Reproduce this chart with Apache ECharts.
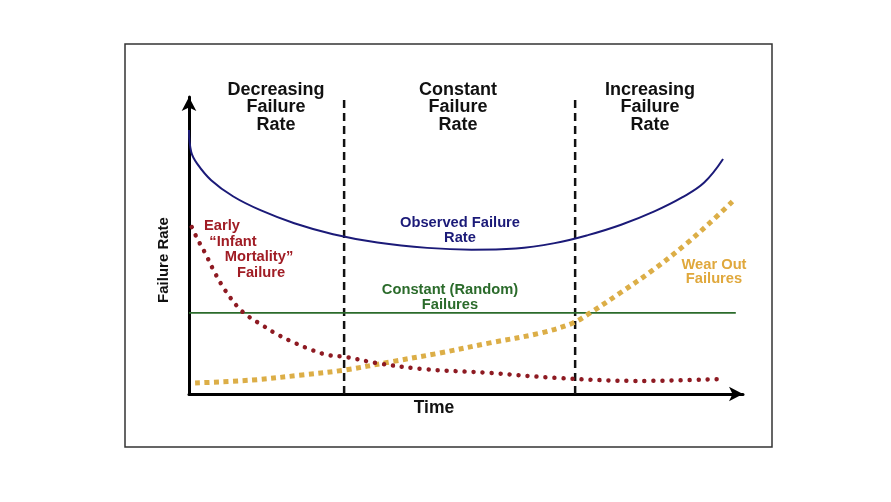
<!DOCTYPE html>
<html>
<head>
<meta charset="utf-8">
<script src="https://cdn.jsdelivr.net/npm/echarts@6/dist/echarts.min.js"></script>
<style>
html,body{margin:0;padding:0;background:#fff;}
#chart{width:891px;height:502px;}
</style>
</head>
<body>
<div id="chart"></div>
<script>
// Data (x: time 0-100, y: failure rate 0-100)
const observedX = [0, 0.4, 1.5, 4, 8, 13, 19, 26, 34, 43, 51, 59, 66, 72, 78, 84, 89, 93, 96.4];
const observedY = [88.9, 81.5, 77.5, 72.0, 66.5, 61.8, 57.5, 53.8, 51.0, 49.2, 48.6, 49.0, 50.8, 53.5, 57.0, 61.5, 66.2, 71.2, 79.1];
const infantX = [0.5, 1.6, 2.9, 4.7, 6.5, 8.8, 10.6, 13.2, 16.1, 19.1, 22.2, 25.1, 28.2, 33.9, 42.2, 54.3, 66.4, 80.9, 96.8];
const infantY = [56.2, 51.9, 47.5, 40.7, 35.0, 29.3, 26.3, 23.2, 19.9, 17.2, 14.8, 13.1, 12.5, 10.4, 8.4, 7.1, 5.4, 4.4, 5.1];
const wearX = [1.1, 11.4, 20.4, 28.2, 36.3, 45.3, 54.3, 63.4, 69.3, 72.4, 77.8, 83.8, 89.9, 94.0, 98.2];
const wearY = [3.7, 4.7, 6.4, 8.1, 10.8, 13.8, 17.2, 20.5, 23.9, 27.3, 34.0, 41.8, 50.8, 57.6, 65.0];
const constantX = [0, 98.7];
const constantY = [27.3, 27.3];
const phaseBoundaries = [28.0, 69.7];
const phaseTop = 99.7;
const phaseTitles = ['Decreasing\nFailure\nRate', 'Constant\nFailure\nRate', 'Increasing\nFailure\nRate'];
const xAxisName = 'Time';
const yAxisName = 'Failure Rate';

const zip = (xs, ys) => xs.map((x, i) => [x, ys[i]]);
const FONT = '"Liberation Sans", Arial, sans-serif';

const chart = echarts.init(document.getElementById('chart'), null, {renderer: 'canvas'});

const boundarySeries = phaseBoundaries.map(b => ({
  type: 'line', data: [[b, 0], [b, phaseTop]], symbol: 'none', silent: true,
  lineStyle: {color: '#111', width: 2.5, type: [8, 5]}, z: 1
}));

function txt(text, x, y, color, size, lh) {
  return {
    type: 'text', x: x, y: y, silent: true,
    style: {text: text, fill: color, font: 'bold ' + size + 'px ' + FONT,
      align: 'center', verticalAlign: 'middle', lineHeight: lh || size}
  };
}

const axisCommon = {
  type: 'value', min: 0, max: 100,
  axisLine: {show: true, lineStyle: {color: '#000', width: 3}, symbol: ['none', 'arrow'], symbolSize: [11, 14], symbolOffset: [0, 0]},
  axisTick: {show: false}, axisLabel: {show: false}, splitLine: {show: false}
};

const option = {
  animation: false,
  backgroundColor: '#fff',
  grid: {left: 189, right: 148, top: 97, bottom: 108, containLabel: false},
  xAxis: axisCommon,
  yAxis: axisCommon,
  series: [
    ...boundarySeries,
    {type: 'line', data: zip(constantX, constantY), symbol: 'none', silent: true,
      lineStyle: {color: '#2b6b2b', width: 1.6}, z: 2},
    {type: 'line', data: zip(wearX, wearY), symbol: 'none', smooth: 0.35, silent: true,
      lineStyle: {color: '#dcae47', width: 5, type: [5, 4.5], cap: 'butt'}, z: 3},
    {type: 'line', data: zip(infantX, infantY), symbol: 'none', smooth: 0.35, silent: true,
      lineStyle: {color: '#8e1a22', width: 4.5, type: [0.01, 9], cap: 'round'}, z: 4},
    {type: 'line', data: zip(observedX, observedY), symbol: 'none', smooth: 0.4, silent: true,
      lineStyle: {color: '#1b1a78', width: 2}, z: 5}
  ],
  graphic: [
    {type: 'rect', shape: {x: 125, y: 44, width: 647, height: 403}, silent: true,
      style: {fill: 'none', stroke: '#333', lineWidth: 1.5}},
    txt(phaseTitles[0], 276, 107.5, '#111', 18, 17.5),
    txt(phaseTitles[1], 458, 107.5, '#111', 18, 17.5),
    txt(phaseTitles[2], 650, 107.5, '#111', 18, 17.5),
    txt(xAxisName, 434, 408, '#111', 17.5),
    {type: 'text', x: 164, y: 260, rotation: Math.PI / 2, silent: true,
      style: {text: yAxisName, fill: '#111', font: 'bold 15px ' + FONT, align: 'center', verticalAlign: 'middle'}},
    txt('Observed Failure\nRate', 460, 230, '#1b1a78', 14.7, 15),
    txt('Constant (Random)\nFailures', 450, 297.5, '#2b6b2b', 14.7, 15),
    txt('Wear Out\nFailures', 714, 272, '#e0a83c', 14.7, 14.5),
    txt('Early', 222, 226, '#a01c24', 14.7),
    txt('\u201CInfant', 233, 242, '#a01c24', 14.7),
    txt('Mortality\u201D', 259, 257, '#a01c24', 14.7),
    txt('Failure', 261, 273, '#a01c24', 14.7)
  ]
};
chart.setOption(option);
</script>
</body>
</html>
